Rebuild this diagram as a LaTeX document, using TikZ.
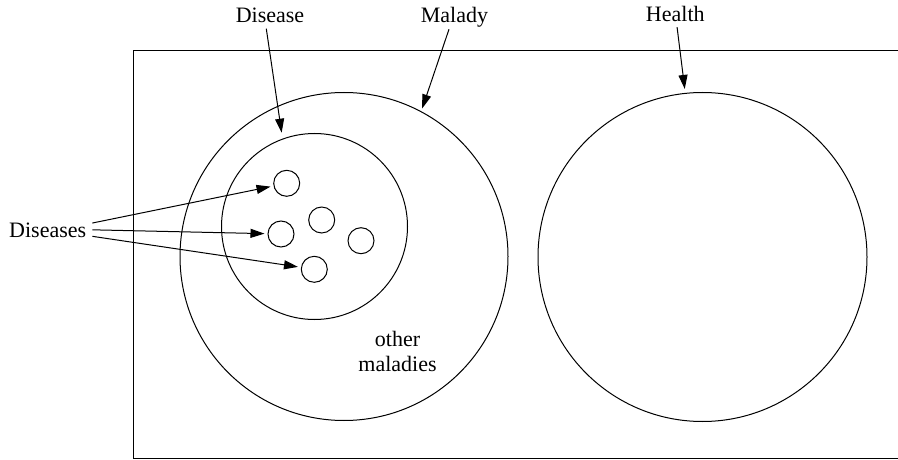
\documentclass[tikz,border=0pt]{standalone}
\usepackage{fontspec}
\setmainfont{Liberation Serif}
\usetikzlibrary{arrows.meta}
\begin{document}
\begin{tikzpicture}[x=1pt,y=-1pt,
  ring/.style={draw,circle,line width=1pt,inner sep=0pt,minimum size=#1},
  lbl/.style={font=\fontsize{22}{24.3}\selectfont,inner sep=2pt},
  pointer/.style={line width=1pt,-{Triangle[length=14pt,width=9pt]}}]
\useasboundingbox (0,0) rectangle (898,460);

% universe frame (open on the right)
\draw[line width=1pt] (900,51) -| (133,458) -- (900,458);

% main sets
\node[ring=328pt] (mal) at (344,256.5) {};
\node[ring=186pt] (dis) at (314.5,226.5) {};
\node[ring=329pt] (hea) at (702.5,257) {};

% individual diseases
\node[ring=26pt] (c1) at (286.7,183.3) {};
\node[ring=26pt] (c2) at (321.7,220) {};
\node[ring=26pt] (c3) at (281,234) {};
\node[ring=26pt] (c4) at (361,240.7) {};
\node[ring=26pt] (c5) at (314.3,269.3) {};

% labels
\node[lbl,anchor=base] (dl) at (270,22.3) {Disease};
\node[lbl,anchor=base] (ml) at (454.5,22.3) {Malady};
\node[lbl,anchor=base] (hl) at (675.3,21.7) {Health};
\node[lbl,anchor=base west] (dsl) at (7,237) {Diseases};
\node[lbl,align=center] (om) at (397.5,351.5) {other\\maladies};

% pointers
\draw[pointer,shorten <=4pt,shorten >=6pt] ([xshift=-4.3pt]dl.south) -- (dis.110);
\draw[pointer,shorten >=3pt] ([xshift=-5.5pt]ml.south) -- (mal.62);
\draw[pointer,shorten <=3pt,shorten >=4pt] ([xshift=1.4pt]hl.south) -- (hea.96);
\draw[pointer,shorten >=3pt] ([xshift=4pt,yshift=6.8pt]dsl.east) -- (c1);
\draw[pointer,shorten >=3pt] ([xshift=4pt]dsl.east) -- (c3);
\draw[pointer,shorten >=3pt] ([xshift=4pt,yshift=-6.5pt]dsl.east) -- (c5);
\end{tikzpicture}
\end{document}
